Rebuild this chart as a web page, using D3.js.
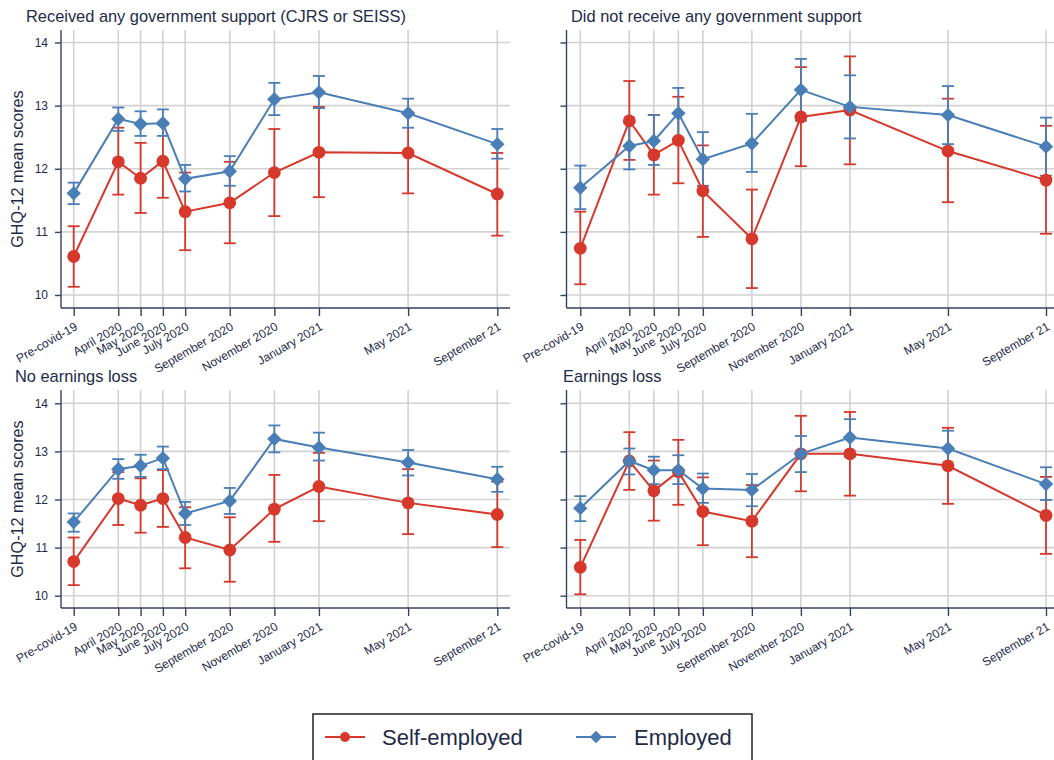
<!DOCTYPE html>
<html>
<head>
<meta charset="utf-8">
<script src="https://cdn.jsdelivr.net/npm/d3@7"></script>
<style>
  body { margin: 0; background: #fff; }
  svg { display: block; }
  text { font-family: "Liberation Sans", Arial, Helvetica, sans-serif; fill: #1e2a48; }
</style>
</head>
<body>
<svg id="chart" width="1054" height="760"></svg>
<script>
// Survey waves and their position in months since April 2020
const waveLabels = ["Pre-covid-19", "April 2020", "May 2020", "June 2020", "July 2020",
  "September 2020", "November 2020", "January 2021", "May 2021", "September 21"];
const waveMonth = [-2, 0, 1, 2, 3, 5, 7, 9, 13, 17];
const yTicks = [10, 11, 12, 13, 14];

const panelTitles = ["Received any government support (CJRS or SEISS)",
  "Did not receive any government support", "No earnings loss", "Earnings loss"];
const seriesNames = ["Self-employed", "Employed"];

// GHQ-12 means with 95% CI bounds — received government support
const selfMeanSupport = [10.61, 12.11, 11.85, 12.12, 11.32, 11.46, 11.94, 12.26, 12.25, 11.60];
const selfLoSupport   = [10.13, 11.59, 11.30, 11.54, 10.71, 10.82, 11.25, 11.55, 11.61, 10.94];
const selfHiSupport   = [11.09, 12.65, 12.41, 12.70, 11.94, 12.11, 12.63, 12.98, 12.89, 12.25];
const empMeanSupport  = [11.61, 12.79, 12.71, 12.72, 11.84, 11.96, 13.10, 13.21, 12.88, 12.39];
const empLoSupport    = [11.44, 12.60, 12.52, 12.52, 11.64, 11.73, 12.85, 12.96, 12.65, 12.16];
const empHiSupport    = [11.78, 12.97, 12.91, 12.94, 12.06, 12.20, 13.36, 13.47, 13.11, 12.63];

// No government support
const selfMeanNoSupport = [10.74, 12.76, 12.22, 12.45, 11.65, 10.89, 12.82, 12.93, 12.28, 11.82];
const selfLoNoSupport   = [10.17, 12.14, 11.59, 11.77, 10.92, 10.11, 12.04, 12.07, 11.47, 10.97];
const selfHiNoSupport   = [11.32, 13.39, 12.85, 13.14, 12.37, 11.67, 13.61, 13.78, 13.11, 12.68];
const empMeanNoSupport  = [11.70, 12.36, 12.44, 12.88, 12.15, 12.40, 13.25, 12.98, 12.85, 12.35];
const empLoNoSupport    = [11.36, 11.99, 12.06, 12.48, 11.73, 11.95, 12.76, 12.48, 12.39, 11.89];
const empHiNoSupport    = [12.05, 12.73, 12.85, 13.28, 12.58, 12.87, 13.74, 13.48, 13.31, 12.81];

// No earnings loss
const selfMeanNoLoss = [10.71, 12.02, 11.88, 12.02, 11.21, 10.95, 11.80, 12.27, 11.93, 11.69];
const selfLoNoLoss   = [10.22, 11.47, 11.31, 11.43, 10.57, 10.29, 11.12, 11.55, 11.28, 11.01];
const selfHiNoLoss   = [11.21, 12.57, 12.44, 12.61, 11.84, 11.63, 12.51, 12.97, 12.63, 12.37];
const empMeanNoLoss  = [11.53, 12.63, 12.70, 12.86, 11.71, 11.97, 13.26, 13.08, 12.77, 12.42];
const empLoNoLoss    = [11.33, 12.43, 12.47, 12.63, 11.47, 11.70, 12.98, 12.81, 12.50, 12.16];
const empHiNoLoss    = [11.71, 12.84, 12.93, 13.10, 11.95, 12.24, 13.54, 13.39, 13.03, 12.68];

// Earnings loss
const selfMeanLoss = [10.59, 12.80, 12.18, 12.58, 11.75, 11.55, 12.95, 12.95, 12.70, 11.67];
const selfLoLoss   = [10.03, 12.20, 11.56, 11.89, 11.05, 10.80, 12.17, 12.08, 11.91, 10.87];
const selfHiLoss   = [11.16, 13.40, 12.81, 13.24, 12.46, 12.30, 13.74, 13.82, 13.49, 12.47];
const empMeanLoss  = [11.82, 12.80, 12.61, 12.61, 12.23, 12.20, 12.95, 13.29, 13.06, 12.32];
const empLoLoss    = [11.55, 12.52, 12.32, 12.32, 11.93, 11.86, 12.57, 12.89, 12.68, 11.99];
const empHiLoss    = [12.07, 13.06, 12.89, 12.92, 12.54, 12.53, 13.32, 13.67, 13.43, 12.67];

const panels = [
  { title: panelTitles[0], series: [
      { mean: selfMeanSupport, lo: selfLoSupport, hi: selfHiSupport },
      { mean: empMeanSupport, lo: empLoSupport, hi: empHiSupport }] },
  { title: panelTitles[1], series: [
      { mean: selfMeanNoSupport, lo: selfLoNoSupport, hi: selfHiNoSupport },
      { mean: empMeanNoSupport, lo: empLoNoSupport, hi: empHiNoSupport }] },
  { title: panelTitles[2], series: [
      { mean: selfMeanNoLoss, lo: selfLoNoLoss, hi: selfHiNoLoss },
      { mean: empMeanNoLoss, lo: empLoNoLoss, hi: empHiNoLoss }] },
  { title: panelTitles[3], series: [
      { mean: selfMeanLoss, lo: selfLoLoss, hi: selfHiLoss },
      { mean: empMeanLoss, lo: empLoLoss, hi: empHiLoss }] }
];

// Frame geometry of each small multiple; only the left column labels its y axis
const frames = [
  { left: 61, right: 510, top: 30, bottom: 308, y10: 295, y14: 42.5, xIn: [73.7, 497.3], titleX: 26, titleY: 22, leftCol: true },
  { left: 566.5, right: 1060, top: 30, bottom: 308, y10: 295, y14: 42.5, xIn: [580.3, 1046], titleX: 571, titleY: 22, leftCol: false },
  { left: 61, right: 510, top: 390, bottom: 608, y10: 595.7, y14: 403.3, xIn: [73.7, 497.3], titleX: 15, titleY: 382, leftCol: true },
  { left: 566.5, right: 1060, top: 390, bottom: 608, y10: 595.7, y14: 403.3, xIn: [580.3, 1046], titleX: 563, titleY: 382, leftCol: false }
];

const colors = ["#d6382c", "#4a7eb6"];
const gridColor = "#d2d2d2";
const axisColor = "#33425f";

const svg = d3.select("#chart");

panels.forEach((p, pi) => {
  const f = frames[pi];
  const x = d3.scaleLinear().domain(d3.extent(waveMonth)).range(f.xIn);
  const y = d3.scaleLinear().domain([10, 14]).range([f.y10, f.y14]);
  const g = svg.append("g");

  // grid
  g.append("g").selectAll("line").data(yTicks).join("line")
    .attr("x1", f.left).attr("x2", f.right)
    .attr("y1", d => y(d)).attr("y2", d => y(d))
    .attr("stroke", gridColor).attr("stroke-width", 1.6);
  g.append("g").selectAll("line").data(waveMonth).join("line")
    .attr("x1", d => x(d)).attr("x2", d => x(d))
    .attr("y1", f.top).attr("y2", f.bottom)
    .attr("stroke", gridColor).attr("stroke-width", 1.6);

  // axes
  const yAxis = g.append("g").attr("transform", `translate(${f.left},0)`)
    .call(d3.axisLeft(y).tickValues(yTicks).tickSize(6).tickSizeOuter(0).tickPadding(7)
      .tickFormat(f.leftCol ? d3.format("d") : () => ""));
  const xAxis = g.append("g").attr("transform", `translate(0,${f.bottom})`)
    .call(d3.axisBottom(x).tickValues(waveMonth).tickSize(8).tickSizeOuter(0)
      .tickFormat((d, i) => waveLabels[i]));
  [yAxis, xAxis].forEach(a => {
    a.select(".domain").remove();
    a.selectAll(".tick line").attr("stroke", axisColor).attr("stroke-width", 1.4);
    a.selectAll(".tick text").style("font-size", "12px").attr("fill", "#1e2a48");
  });
  xAxis.selectAll(".tick text")
    .attr("x", null).attr("y", null).attr("dy", null)
    .attr("text-anchor", "end")
    .attr("transform", "translate(4,21) rotate(-30)");
  g.append("line").attr("x1", f.left).attr("x2", f.left).attr("y1", f.top).attr("y2", f.bottom)
    .attr("stroke", axisColor).attr("stroke-width", 1.4);
  g.append("line").attr("x1", f.left).attr("x2", f.right).attr("y1", f.bottom).attr("y2", f.bottom)
    .attr("stroke", axisColor).attr("stroke-width", 1.4);

  // titles
  g.append("text").attr("x", f.titleX).attr("y", f.titleY)
    .style("font-size", "16.4px").text(p.title);
  if (f.leftCol) {
    g.append("text")
      .attr("transform", `translate(23,${(f.top + f.bottom) / 2}) rotate(-90)`)
      .attr("text-anchor", "middle")
      .style("font-size", "16.2px").text("GHQ-12 mean scores");
  }

  // confidence intervals
  p.series.forEach((s, si) => {
    const eg = g.append("g").attr("stroke", colors[si]).attr("stroke-width", 1.8).attr("fill", "none");
    const idx = d3.range(waveMonth.length);
    eg.selectAll(".bar").data(idx).join("line")
      .attr("x1", i => x(waveMonth[i])).attr("x2", i => x(waveMonth[i]))
      .attr("y1", i => y(s.lo[i])).attr("y2", i => y(s.hi[i]));
    eg.selectAll(".capLo").data(idx).join("line")
      .attr("x1", i => x(waveMonth[i]) - 6).attr("x2", i => x(waveMonth[i]) + 6)
      .attr("y1", i => y(s.lo[i])).attr("y2", i => y(s.lo[i]));
    eg.selectAll(".capHi").data(idx).join("line")
      .attr("x1", i => x(waveMonth[i]) - 6).attr("x2", i => x(waveMonth[i]) + 6)
      .attr("y1", i => y(s.hi[i])).attr("y2", i => y(s.hi[i]));
  });

  // connected means
  p.series.forEach((s, si) => {
    const line = d3.line().x((d, i) => x(waveMonth[i])).y(d => y(d));
    g.append("path").datum(s.mean).attr("d", line)
      .attr("fill", "none").attr("stroke", colors[si]).attr("stroke-width", 2);
    const mg = g.append("g").attr("fill", colors[si]);
    if (si === 0) {
      mg.selectAll("circle").data(s.mean).join("circle")
        .attr("cx", (d, i) => x(waveMonth[i])).attr("cy", d => y(d)).attr("r", 6.4);
    } else {
      mg.selectAll("path").data(s.mean).join("path")
        .attr("d", d3.symbol(d3.symbolSquare, 104)())
        .attr("transform", (d, i) => `translate(${x(waveMonth[i])},${y(d)}) rotate(45)`);
    }
  });
});

// legend
const lg = svg.append("g");
lg.append("rect").attr("x", 313).attr("y", 714).attr("width", 439).attr("height", 60)
  .attr("fill", "#fff").attr("stroke", "#222").attr("stroke-width", 1.5);
const legendItems = [
  { name: seriesNames[0], color: colors[0], x0: 325, tx: 382 },
  { name: seriesNames[1], color: colors[1], x0: 576, tx: 634 }
];
legendItems.forEach((it, i) => {
  lg.append("line").attr("x1", it.x0).attr("x2", it.x0 + 40).attr("y1", 737).attr("y2", 737)
    .attr("stroke", it.color).attr("stroke-width", 2);
  if (i === 0) {
    lg.append("circle").attr("cx", it.x0 + 20).attr("cy", 737).attr("r", 5).attr("fill", it.color);
  } else {
    lg.append("path").attr("d", d3.symbol(d3.symbolSquare, 78)())
      .attr("transform", `translate(${it.x0 + 20},737) rotate(45)`).attr("fill", it.color);
  }
  lg.append("text").attr("x", it.tx).attr("y", 745).style("font-size", "22px").text(it.name);
});
</script>
</body>
</html>
